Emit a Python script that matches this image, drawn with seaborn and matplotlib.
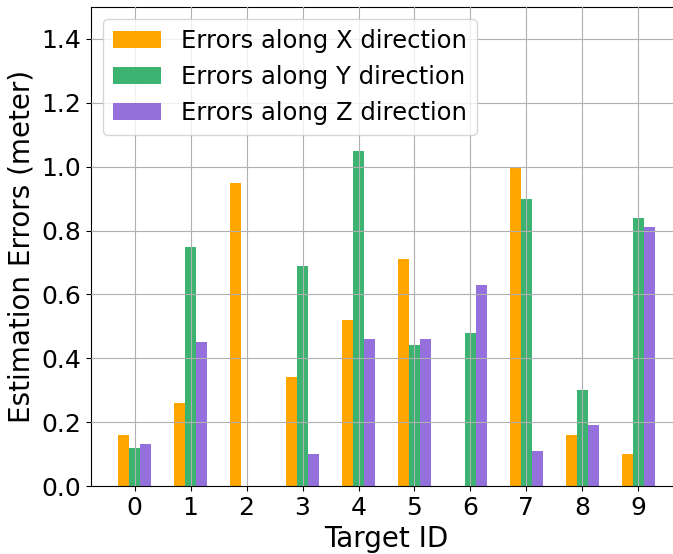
import matplotlib
matplotlib.use("Agg")
import matplotlib.pyplot as plt
import seaborn as sns
import pandas as pd

targets = [0, 1, 2, 3, 4, 5, 6, 7, 8, 9]
err_x = [0.16, 0.26, 0.95, 0.34, 0.52, 0.71, 0.0, 1.00, 0.16, 0.10]
err_y = [0.12, 0.75, 0.0, 0.69, 1.05, 0.44, 0.48, 0.90, 0.30, 0.84]
err_z = [0.13, 0.45, 0.0, 0.10, 0.46, 0.46, 0.63, 0.11, 0.19, 0.81]
series_names = ["Errors along X direction", "Errors along Y direction", "Errors along Z direction"]
colors = ["#FFA500", "#3CB371", "#9370DB"]

rows = []
for name, vals in zip(series_names, [err_x, err_y, err_z]):
    for t, v in zip(targets, vals):
        rows.append({"Target ID": t, "error": v, "series": name})
df = pd.DataFrame(rows)

fig = plt.figure(figsize=(6.73, 5.54), dpi=100)
W, H = 673, 554
ax = fig.add_axes([91 / W, (H - 486) / H, 591 / W, 479 / H])

sns.barplot(data=df, x="Target ID", y="error", hue="series", palette=colors,
            width=0.6, saturation=1, errorbar=None, ax=ax)

ax.set_xlim(-0.78, 9.78)
ax.set_ylim(0, 1.5)
yt = [0.0, 0.2, 0.4, 0.6, 0.8, 1.0, 1.2, 1.4]
ax.set_yticks(yt)
ax.set_yticklabels([f"{v:.1f}" for v in yt])
ax.grid(True, color="#b0b0b0", linewidth=0.8)
ax.set_axisbelow(False)
ax.tick_params(labelsize=18)
ax.set_xlabel("Target ID", fontsize=20)
ax.set_ylabel("Estimation Errors (meter)", fontsize=20)
for s in ax.spines.values():
    s.set_color("black")
    s.set_linewidth(0.8)
ax.legend(loc="upper left", fontsize=17.5, title=None)

fig.savefig("out.png", dpi=100)
